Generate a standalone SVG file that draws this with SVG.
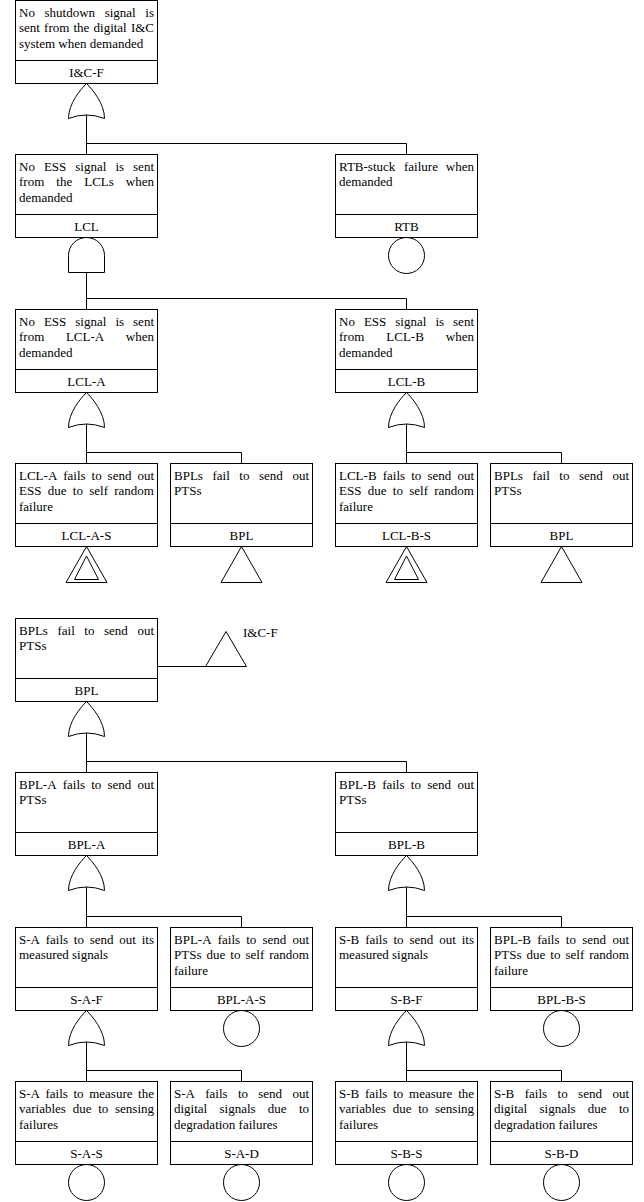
<svg xmlns="http://www.w3.org/2000/svg" xmlns:xlink="http://www.w3.org/1999/xlink" width="644" height="1202" viewBox="0 0 644 1202">
<style>
.box{fill:#fff;stroke:#000;stroke-width:1}
.dv{stroke:#000;stroke-width:1}
.t{font-family:"Liberation Serif","Times New Roman","DejaVu Serif",serif;font-size:13px;fill:#000}
.c{text-anchor:middle}
.cn{fill:none;stroke:#000;stroke-width:1}
.sym{fill:#fff;stroke:#000;stroke-width:1}
</style>
<defs>
<path id="or" d="M0,0 C-6,6 -18,20 -18,35 Q0,28 18,35 C18,20 6,6 0,0 Z"/>
<path id="and" d="M-18,35 V18 A18,18 0 0 1 18,18 V35 Z"/>
<circle id="bas" cx="0" cy="18" r="18"/>
<path id="tri" d="M0,0 L-20.5,36 H20.5 Z"/>
<path id="tri2" d="M0,9.5 L-12,33 H12 Z"/>
</defs>
<rect width="644" height="1202" fill="#fff"/>

<g id="connectors">
<path class="cn" d="M86.5,115 V154.5 M86.5,143.5 H406.5 V154.5"/>
<path class="cn" d="M86.5,272.5 V309.5 M86.5,298.5 H406.5 V309.5"/>
<path class="cn" d="M86.5,424 V463.5 M86.5,452.5 H241.5 V463.5"/>
<path class="cn" d="M406.5,424 V463.5 M406.5,452.5 H561.5 V463.5"/>
<path class="cn" d="M157.5,666.5 H205.5"/>
<path class="cn" d="M86.5,733 V772.5 M86.5,761.5 H406.5 V772.5"/>
<path class="cn" d="M86.5,887 V927.5 M86.5,916.5 H241.5 V927.5"/>
<path class="cn" d="M406.5,887 V927.5 M406.5,916.5 H561.5 V927.5"/>
<path class="cn" d="M86.5,1042 V1081.5 M86.5,1070.5 H241.5 V1081.5"/>
<path class="cn" d="M406.5,1042 V1081.5 M406.5,1070.5 H561.5 V1081.5"/>
</g>

<g id="gates">
<use xlink:href="#or" class="sym" transform="translate(86.5,83.5)"/>
<use xlink:href="#and" class="sym" transform="translate(86.5,237.5)"/>
<use xlink:href="#bas" class="sym" transform="translate(406.5,237.5)"/>
<use xlink:href="#or" class="sym" transform="translate(86.5,392.5)"/>
<use xlink:href="#or" class="sym" transform="translate(406.5,392.5)"/>
<use xlink:href="#tri" class="sym" transform="translate(86.5,546.5)"/>
<use xlink:href="#tri2" class="sym" transform="translate(86.5,546.5)"/>
<use xlink:href="#tri" class="sym" transform="translate(241.5,546.5)"/>
<use xlink:href="#tri" class="sym" transform="translate(406.5,546.5)"/>
<use xlink:href="#tri2" class="sym" transform="translate(406.5,546.5)"/>
<use xlink:href="#tri" class="sym" transform="translate(561.5,546.5)"/>
<use xlink:href="#or" class="sym" transform="translate(86.5,701.5)"/>
<use xlink:href="#or" class="sym" transform="translate(86.5,855.5)"/>
<use xlink:href="#or" class="sym" transform="translate(406.5,855.5)"/>
<use xlink:href="#bas" class="sym" transform="translate(241.5,1010.5)"/>
<use xlink:href="#bas" class="sym" transform="translate(561.5,1010.5)"/>
<use xlink:href="#or" class="sym" transform="translate(86.5,1010.5)"/>
<use xlink:href="#or" class="sym" transform="translate(406.5,1010.5)"/>
<use xlink:href="#bas" class="sym" transform="translate(86.5,1164.5)"/>
<use xlink:href="#bas" class="sym" transform="translate(241.5,1164.5)"/>
<use xlink:href="#bas" class="sym" transform="translate(406.5,1164.5)"/>
<use xlink:href="#bas" class="sym" transform="translate(561.5,1164.5)"/>
</g>

<g id="transfer-icf">
<path class="sym" d="M226,631.5 L205.5,666.5 H246.5 Z"/>
<text class="t" x="243" y="637">I&amp;C-F</text>
</g>

<g id="node-icf">
<rect class="box" x="15.5" y="0.5" width="142" height="83"/>
<line class="dv" x1="15.5" y1="60.5" x2="157.5" y2="60.5"/>
<text class="t" y="16.5"><tspan x="19">No</tspan><tspan x="44.5">shutdown</tspan><tspan x="104.67">signal</tspan><tspan x="145.33">is</tspan></text>
<text class="t" y="32"><tspan x="19">sent</tspan><tspan x="44.08">from</tspan><tspan x="73.49">the</tspan><tspan x="93.52">digital</tspan><tspan x="130.89">I&amp;C</tspan></text>
<text class="t" x="19" y="47.5">system when demanded</text>
<text class="t c" x="86.5" y="76.5">I&amp;C-F</text>
</g>

<g id="node-lcl">
<rect class="box" x="15.5" y="154.5" width="142" height="83"/>
<line class="dv" x1="15.5" y1="214.5" x2="157.5" y2="214.5"/>
<text class="t" y="170.5"><tspan x="19">No</tspan><tspan x="43.9">ESS</tspan><tspan x="75.31">signal</tspan><tspan x="115.38">is</tspan><tspan x="133.06">sent</tspan></text>
<text class="t" y="186"><tspan x="19">from</tspan><tspan x="56.29">the</tspan><tspan x="84.2">LCLs</tspan><tspan x="125.84">when</tspan></text>
<text class="t" x="19" y="201.5">demanded</text>
<text class="t c" x="86.5" y="230.5">LCL</text>
</g>

<g id="node-rtb">
<rect class="box" x="335.5" y="154.5" width="142" height="83"/>
<line class="dv" x1="335.5" y1="214.5" x2="477.5" y2="214.5"/>
<text class="t" y="170.5"><tspan x="339">RTB-stuck</tspan><tspan x="404">failure</tspan><tspan x="445.85">when</tspan></text>
<text class="t" x="339" y="186">demanded</text>
<text class="t c" x="406.5" y="230.5">RTB</text>
</g>

<g id="node-lcl-a">
<rect class="box" x="15.5" y="309.5" width="142" height="83"/>
<line class="dv" x1="15.5" y1="369.5" x2="157.5" y2="369.5"/>
<text class="t" y="325.5"><tspan x="19">No</tspan><tspan x="43.9">ESS</tspan><tspan x="75.31">signal</tspan><tspan x="115.38">is</tspan><tspan x="133.06">sent</tspan></text>
<text class="t" y="341"><tspan x="19">from</tspan><tspan x="65.92">LCL-A</tspan><tspan x="125.84">when</tspan></text>
<text class="t" x="19" y="356.5">demanded</text>
<text class="t c" x="86.5" y="385.5">LCL-A</text>
</g>

<g id="node-lcl-b">
<rect class="box" x="335.5" y="309.5" width="142" height="83"/>
<line class="dv" x1="335.5" y1="369.5" x2="477.5" y2="369.5"/>
<text class="t" y="325.5"><tspan x="339">No</tspan><tspan x="363.9">ESS</tspan><tspan x="395.31">signal</tspan><tspan x="435.38">is</tspan><tspan x="453.06">sent</tspan></text>
<text class="t" y="341"><tspan x="339">from</tspan><tspan x="386.27">LCL-B</tspan><tspan x="445.84">when</tspan></text>
<text class="t" x="339" y="356.5">demanded</text>
<text class="t c" x="406.5" y="385.5">LCL-B</text>
</g>

<g id="node-lcl-a-s">
<rect class="box" x="15.5" y="463.5" width="142" height="83"/>
<line class="dv" x1="15.5" y1="523.5" x2="157.5" y2="523.5"/>
<text class="t" y="479.5"><tspan x="19">LCL-A</tspan><tspan x="63.22">fails</tspan><tspan x="91.56">to</tspan><tspan x="107.62">send</tspan><tspan x="137.4">out</tspan></text>
<text class="t" y="495"><tspan x="19">ESS</tspan><tspan x="47.71">due</tspan><tspan x="72.79">to</tspan><tspan x="89.21">self</tspan><tspan x="114.28">random</tspan></text>
<text class="t" x="19" y="510.5">failure</text>
<text class="t c" x="86.5" y="539.5">LCL-A-S</text>
</g>

<g id="node-bpl-1">
<rect class="box" x="170.5" y="463.5" width="142" height="83"/>
<line class="dv" x1="170.5" y1="523.5" x2="312.5" y2="523.5"/>
<text class="t" y="479.5"><tspan x="174">BPLs</tspan><tspan x="212.46">fail</tspan><tspan x="239.35">to</tspan><tspan x="259.02">send</tspan><tspan x="292.41">out</tspan></text>
<text class="t" x="174" y="495">PTSs</text>
<text class="t c" x="241.5" y="539.5">BPL</text>
</g>

<g id="node-lcl-b-s">
<rect class="box" x="335.5" y="463.5" width="142" height="83"/>
<line class="dv" x1="335.5" y1="523.5" x2="477.5" y2="523.5"/>
<text class="t" y="479.5"><tspan x="339">LCL-B</tspan><tspan x="382.69">fails</tspan><tspan x="411.21">to</tspan><tspan x="427.45">send</tspan><tspan x="457.41">out</tspan></text>
<text class="t" y="495"><tspan x="339">ESS</tspan><tspan x="367.71">due</tspan><tspan x="392.79">to</tspan><tspan x="409.21">self</tspan><tspan x="434.28">random</tspan></text>
<text class="t" x="339" y="510.5">failure</text>
<text class="t c" x="406.5" y="539.5">LCL-B-S</text>
</g>

<g id="node-bpl-2">
<rect class="box" x="490.5" y="463.5" width="142" height="83"/>
<line class="dv" x1="490.5" y1="523.5" x2="632.5" y2="523.5"/>
<text class="t" y="479.5"><tspan x="494">BPLs</tspan><tspan x="532.46">fail</tspan><tspan x="559.35">to</tspan><tspan x="579.02">send</tspan><tspan x="612.41">out</tspan></text>
<text class="t" x="494" y="495">PTSs</text>
<text class="t c" x="561.5" y="539.5">BPL</text>
</g>

<g id="node-bpl">
<rect class="box" x="15.5" y="618.5" width="142" height="83"/>
<line class="dv" x1="15.5" y1="678.5" x2="157.5" y2="678.5"/>
<text class="t" y="634.5"><tspan x="19">BPLs</tspan><tspan x="57.46">fail</tspan><tspan x="84.35">to</tspan><tspan x="104.02">send</tspan><tspan x="137.41">out</tspan></text>
<text class="t" x="19" y="650">PTSs</text>
<text class="t c" x="86.5" y="694.5">BPL</text>
</g>

<g id="node-bpl-a">
<rect class="box" x="15.5" y="772.5" width="142" height="83"/>
<line class="dv" x1="15.5" y1="832.5" x2="157.5" y2="832.5"/>
<text class="t" y="788.5"><tspan x="19">BPL-A</tspan><tspan x="62.69">fails</tspan><tspan x="91.21">to</tspan><tspan x="107.45">send</tspan><tspan x="137.41">out</tspan></text>
<text class="t" x="19" y="804">PTSs</text>
<text class="t c" x="86.5" y="848.5">BPL-A</text>
</g>

<g id="node-bpl-b">
<rect class="box" x="335.5" y="772.5" width="142" height="83"/>
<line class="dv" x1="335.5" y1="832.5" x2="477.5" y2="832.5"/>
<text class="t" y="788.5"><tspan x="339">BPL-B</tspan><tspan x="382.15">fails</tspan><tspan x="410.85">to</tspan><tspan x="427.27">send</tspan><tspan x="457.41">out</tspan></text>
<text class="t" x="339" y="804">PTSs</text>
<text class="t c" x="406.5" y="848.5">BPL-B</text>
</g>

<g id="node-s-a-f">
<rect class="box" x="15.5" y="927.5" width="142" height="83"/>
<line class="dv" x1="15.5" y1="987.5" x2="157.5" y2="987.5"/>
<text class="t" y="943.5"><tspan x="19">S-A</tspan><tspan x="45.71">fails</tspan><tspan x="73.87">to</tspan><tspan x="89.75">send</tspan><tspan x="119.35">out</tspan><tspan x="141.73">its</tspan></text>
<text class="t" x="19" y="959">measured signals</text>
<text class="t c" x="86.5" y="1003.5">S-A-F</text>
</g>

<g id="node-bpl-a-s">
<rect class="box" x="170.5" y="927.5" width="142" height="83"/>
<line class="dv" x1="170.5" y1="987.5" x2="312.5" y2="987.5"/>
<text class="t" y="943.5"><tspan x="174">BPL-A</tspan><tspan x="217.69">fails</tspan><tspan x="246.21">to</tspan><tspan x="262.45">send</tspan><tspan x="292.41">out</tspan></text>
<text class="t" y="959"><tspan x="174">PTSs</tspan><tspan x="206.5">due</tspan><tspan x="230.31">to</tspan><tspan x="245.46">self</tspan><tspan x="269.27">random</tspan></text>
<text class="t" x="174" y="974.5">failure</text>
<text class="t c" x="241.5" y="1003.5">BPL-A-S</text>
</g>

<g id="node-s-b-f">
<rect class="box" x="335.5" y="927.5" width="142" height="83"/>
<line class="dv" x1="335.5" y1="987.5" x2="477.5" y2="987.5"/>
<text class="t" y="943.5"><tspan x="339">S-B</tspan><tspan x="365.14">fails</tspan><tspan x="393.44">to</tspan><tspan x="409.46">send</tspan><tspan x="439.2">out</tspan><tspan x="461.72">its</tspan></text>
<text class="t" x="339" y="959">measured signals</text>
<text class="t c" x="406.5" y="1003.5">S-B-F</text>
</g>

<g id="node-bpl-b-s">
<rect class="box" x="490.5" y="927.5" width="142" height="83"/>
<line class="dv" x1="490.5" y1="987.5" x2="632.5" y2="987.5"/>
<text class="t" y="943.5"><tspan x="494">BPL-B</tspan><tspan x="537.15">fails</tspan><tspan x="565.85">to</tspan><tspan x="582.27">send</tspan><tspan x="612.41">out</tspan></text>
<text class="t" y="959"><tspan x="494">PTSs</tspan><tspan x="526.5">due</tspan><tspan x="550.31">to</tspan><tspan x="565.46">self</tspan><tspan x="589.27">random</tspan></text>
<text class="t" x="494" y="974.5">failure</text>
<text class="t c" x="561.5" y="1003.5">BPL-B-S</text>
</g>

<g id="node-s-a-s">
<rect class="box" x="15.5" y="1081.5" width="142" height="83"/>
<line class="dv" x1="15.5" y1="1141.5" x2="157.5" y2="1141.5"/>
<text class="t" y="1097.5"><tspan x="19">S-A</tspan><tspan x="45.53">fails</tspan><tspan x="73.51">to</tspan><tspan x="89.21">measure</tspan><tspan x="138.12">the</tspan></text>
<text class="t" y="1113"><tspan x="19">variables</tspan><tspan x="72.66">due</tspan><tspan x="98.16">to</tspan><tspan x="115">sensing</tspan></text>
<text class="t" x="19" y="1128.5">failures</text>
<text class="t c" x="86.5" y="1157.5">S-A-S</text>
</g>

<g id="node-s-a-d">
<rect class="box" x="170.5" y="1081.5" width="142" height="83"/>
<line class="dv" x1="170.5" y1="1141.5" x2="312.5" y2="1141.5"/>
<text class="t" y="1097.5"><tspan x="174">S-A</tspan><tspan x="205.22">fails</tspan><tspan x="237.89">to</tspan><tspan x="258.28">send</tspan><tspan x="292.39">out</tspan></text>
<text class="t" y="1113"><tspan x="174">digital</tspan><tspan x="219.49">signals</tspan><tspan x="267.86">due</tspan><tspan x="298.89">to</tspan></text>
<text class="t" x="174" y="1128.5">degradation failures</text>
<text class="t c" x="241.5" y="1157.5">S-A-D</text>
</g>

<g id="node-s-b-s">
<rect class="box" x="335.5" y="1081.5" width="142" height="83"/>
<line class="dv" x1="335.5" y1="1141.5" x2="477.5" y2="1141.5"/>
<text class="t" y="1097.5"><tspan x="339">S-B</tspan><tspan x="365">fails</tspan><tspan x="393.16">to</tspan><tspan x="409.04">measure</tspan><tspan x="458.13">the</tspan></text>
<text class="t" y="1113"><tspan x="339">variables</tspan><tspan x="392.66">due</tspan><tspan x="418.16">to</tspan><tspan x="435">sensing</tspan></text>
<text class="t" x="339" y="1128.5">failures</text>
<text class="t c" x="406.5" y="1157.5">S-B-S</text>
</g>

<g id="node-s-b-d">
<rect class="box" x="490.5" y="1081.5" width="142" height="83"/>
<line class="dv" x1="490.5" y1="1141.5" x2="632.5" y2="1141.5"/>
<text class="t" y="1097.5"><tspan x="494">S-B</tspan><tspan x="524.69">fails</tspan><tspan x="557.54">to</tspan><tspan x="578.11">send</tspan><tspan x="612.4">out</tspan></text>
<text class="t" y="1113"><tspan x="494">digital</tspan><tspan x="539.49">signals</tspan><tspan x="587.86">due</tspan><tspan x="618.89">to</tspan></text>
<text class="t" x="494" y="1128.5">degradation failures</text>
<text class="t c" x="561.5" y="1157.5">S-B-D</text>
</g>
</svg>
